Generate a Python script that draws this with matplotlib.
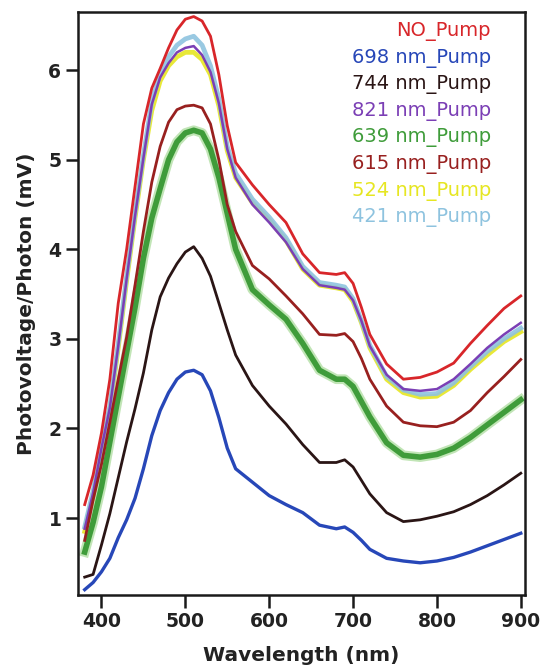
import matplotlib

matplotlib.use("Agg")
import matplotlib.pyplot as plt

plt.rcParams["font.family"] = ["DejaVu Sans"]

# wavelength grid (nm) shared by all spectra
wavelength = [380, 390, 400, 410, 420, 430, 440, 450, 460, 470, 480, 490, 500, 510, 520, 530,
              540, 550, 560, 580, 600, 620, 640, 660, 680, 690, 700, 710, 720, 740, 760, 780,
              800, 820, 840, 860, 880, 900]

no_pump = [1.15, 1.48, 1.95, 2.55, 3.4, 4.0, 4.7, 5.4, 5.8, 6.02, 6.25, 6.45, 6.57, 6.6, 6.55, 6.38,
           5.95, 5.38, 4.97, 4.72, 4.5, 4.3, 3.95, 3.74, 3.72, 3.74, 3.62, 3.35, 3.05, 2.72, 2.55, 2.57,
           2.63, 2.73, 2.95, 3.15, 3.34, 3.48]
pump_698 = [0.2, 0.28, 0.4, 0.55, 0.78, 0.98, 1.22, 1.55, 1.92, 2.2, 2.4, 2.55, 2.63, 2.65, 2.6, 2.42,
            2.12, 1.78, 1.55, 1.4, 1.25, 1.15, 1.06, 0.92, 0.88, 0.9, 0.84, 0.75, 0.65, 0.55, 0.52, 0.5,
            0.52, 0.56, 0.62, 0.69, 0.76, 0.83]
pump_744 = [0.34, 0.37, 0.7, 1.05, 1.45, 1.85, 2.22, 2.62, 3.1, 3.47, 3.68, 3.84, 3.97, 4.03, 3.9, 3.7,
            3.4, 3.1, 2.82, 2.48, 2.25, 2.05, 1.82, 1.62, 1.62, 1.65, 1.57, 1.42, 1.27, 1.06, 0.96, 0.98,
            1.02, 1.07, 1.15, 1.25, 1.37, 1.5]
pump_821 = [0.88, 1.28, 1.78, 2.23, 2.92, 3.67, 4.37, 5.02, 5.62, 5.92, 6.08, 6.2, 6.25, 6.27, 6.17, 5.98,
            5.63, 5.12, 4.8, 4.5, 4.3, 4.08, 3.78, 3.6, 3.57, 3.55, 3.43, 3.2, 2.92, 2.6, 2.44, 2.42,
            2.44, 2.55, 2.72, 2.9, 3.05, 3.18]
pump_639 = [0.62, 0.95, 1.35, 1.85, 2.35, 2.85, 3.35, 3.9, 4.35, 4.68, 5.0, 5.2, 5.3, 5.33, 5.3, 5.12,
            4.8, 4.4, 4.0, 3.55, 3.38, 3.22, 2.95, 2.65, 2.55, 2.55, 2.47, 2.3, 2.13, 1.84, 1.7, 1.68,
            1.71, 1.78, 1.9, 2.04, 2.18, 2.32]
pump_615 = [0.75, 1.2, 1.6, 2.07, 2.55, 3.02, 3.6, 4.2, 4.75, 5.15, 5.42, 5.56, 5.6, 5.61, 5.58, 5.4,
            5.0, 4.5, 4.2, 3.82, 3.67, 3.48, 3.28, 3.05, 3.04, 3.06, 2.97, 2.78, 2.55, 2.25, 2.07, 2.03,
            2.02, 2.07, 2.2, 2.4, 2.58, 2.77]
pump_524 = [0.85, 1.25, 1.75, 2.2, 2.9, 3.65, 4.35, 5.0, 5.55, 5.88, 6.05, 6.15, 6.2, 6.2, 6.12, 5.95,
            5.6, 5.1, 4.8, 4.52, 4.33, 4.1, 3.78, 3.6, 3.57, 3.55, 3.42, 3.18, 2.9, 2.55, 2.4, 2.35,
            2.36, 2.48, 2.66, 2.82, 2.97, 3.08]
pump_421 = [0.9, 1.3, 1.8, 2.25, 2.95, 3.7, 4.4, 5.05, 5.65, 5.97, 6.15, 6.28, 6.35, 6.38, 6.28, 6.05,
            5.68, 5.15, 4.85, 4.56, 4.36, 4.13, 3.81, 3.63, 3.6, 3.58, 3.45, 3.2, 2.93, 2.58, 2.43, 2.38,
            2.39, 2.51, 2.69, 2.86, 3.0, 3.12]

labels = ["NO_Pump", "698 nm_Pump", "744 nm_Pump", "821 nm_Pump",
          "639 nm_Pump", "615 nm_Pump", "524 nm_Pump", "421 nm_Pump"]
colors = ["#d8262a", "#2747b8", "#2a1515", "#7b3fb5",
          "#3f9c3a", "#98201f", "#e6e622", "#8ec3df"]
widths = [2.0, 2.4, 2.0, 1.8, 4.0, 2.0, 3.4, 3.4]

series = [no_pump, pump_698, pump_744, pump_821, pump_639, pump_615, pump_524, pump_421]

fig = plt.figure(figsize=(5.42, 6.70), dpi=100)
ax = fig.add_axes([0.1439, 0.1119, 0.8247, 0.8701])

# glow for the thick green trace
ax.plot(wavelength, pump_639, color="#8fd07a", lw=7, alpha=0.55, zorder=1)

draw_order = [4, 6, 7, 3, 0, 5, 2, 1]
for i in draw_order:
    ax.plot(wavelength, series[i], color=colors[i], lw=widths[i],
            alpha=0.9 if i in (6, 7) else 1.0, zorder=2 + draw_order.index(i),
            solid_joinstyle="round")

ax.set_xlim(372, 905)
ax.set_ylim(0.14, 6.65)
ax.set_xticks([400, 500, 600, 700, 800, 900])
ax.set_yticks([1, 2, 3, 4, 5, 6])

for spine in ax.spines.values():
    spine.set_linewidth(1.8)
    spine.set_color("#1a1a1a")
ax.tick_params(direction="out", length=9, width=1.8, color="#1a1a1a", pad=3,
               labelsize=13.5)
for lab in ax.get_xticklabels() + ax.get_yticklabels():
    lab.set_fontweight("bold")
    lab.set_color("#222222")

ax.set_xlabel("Wavelength (nm)", fontsize=14.5, fontweight="bold", color="#222222", labelpad=11)
ax.set_ylabel("Photovoltage/Photon (mV)", fontsize=14.5, fontweight="bold", color="#222222", labelpad=9)

# colored text legend, right aligned
for k, (lab, col) in enumerate(zip(labels, colors)):
    ax.text(0.924, 0.966 - k * 0.0455, lab, transform=ax.transAxes, ha="right", va="center",
            fontsize=14, color=col, zorder=20)

fig.savefig("out.png", dpi=100)
